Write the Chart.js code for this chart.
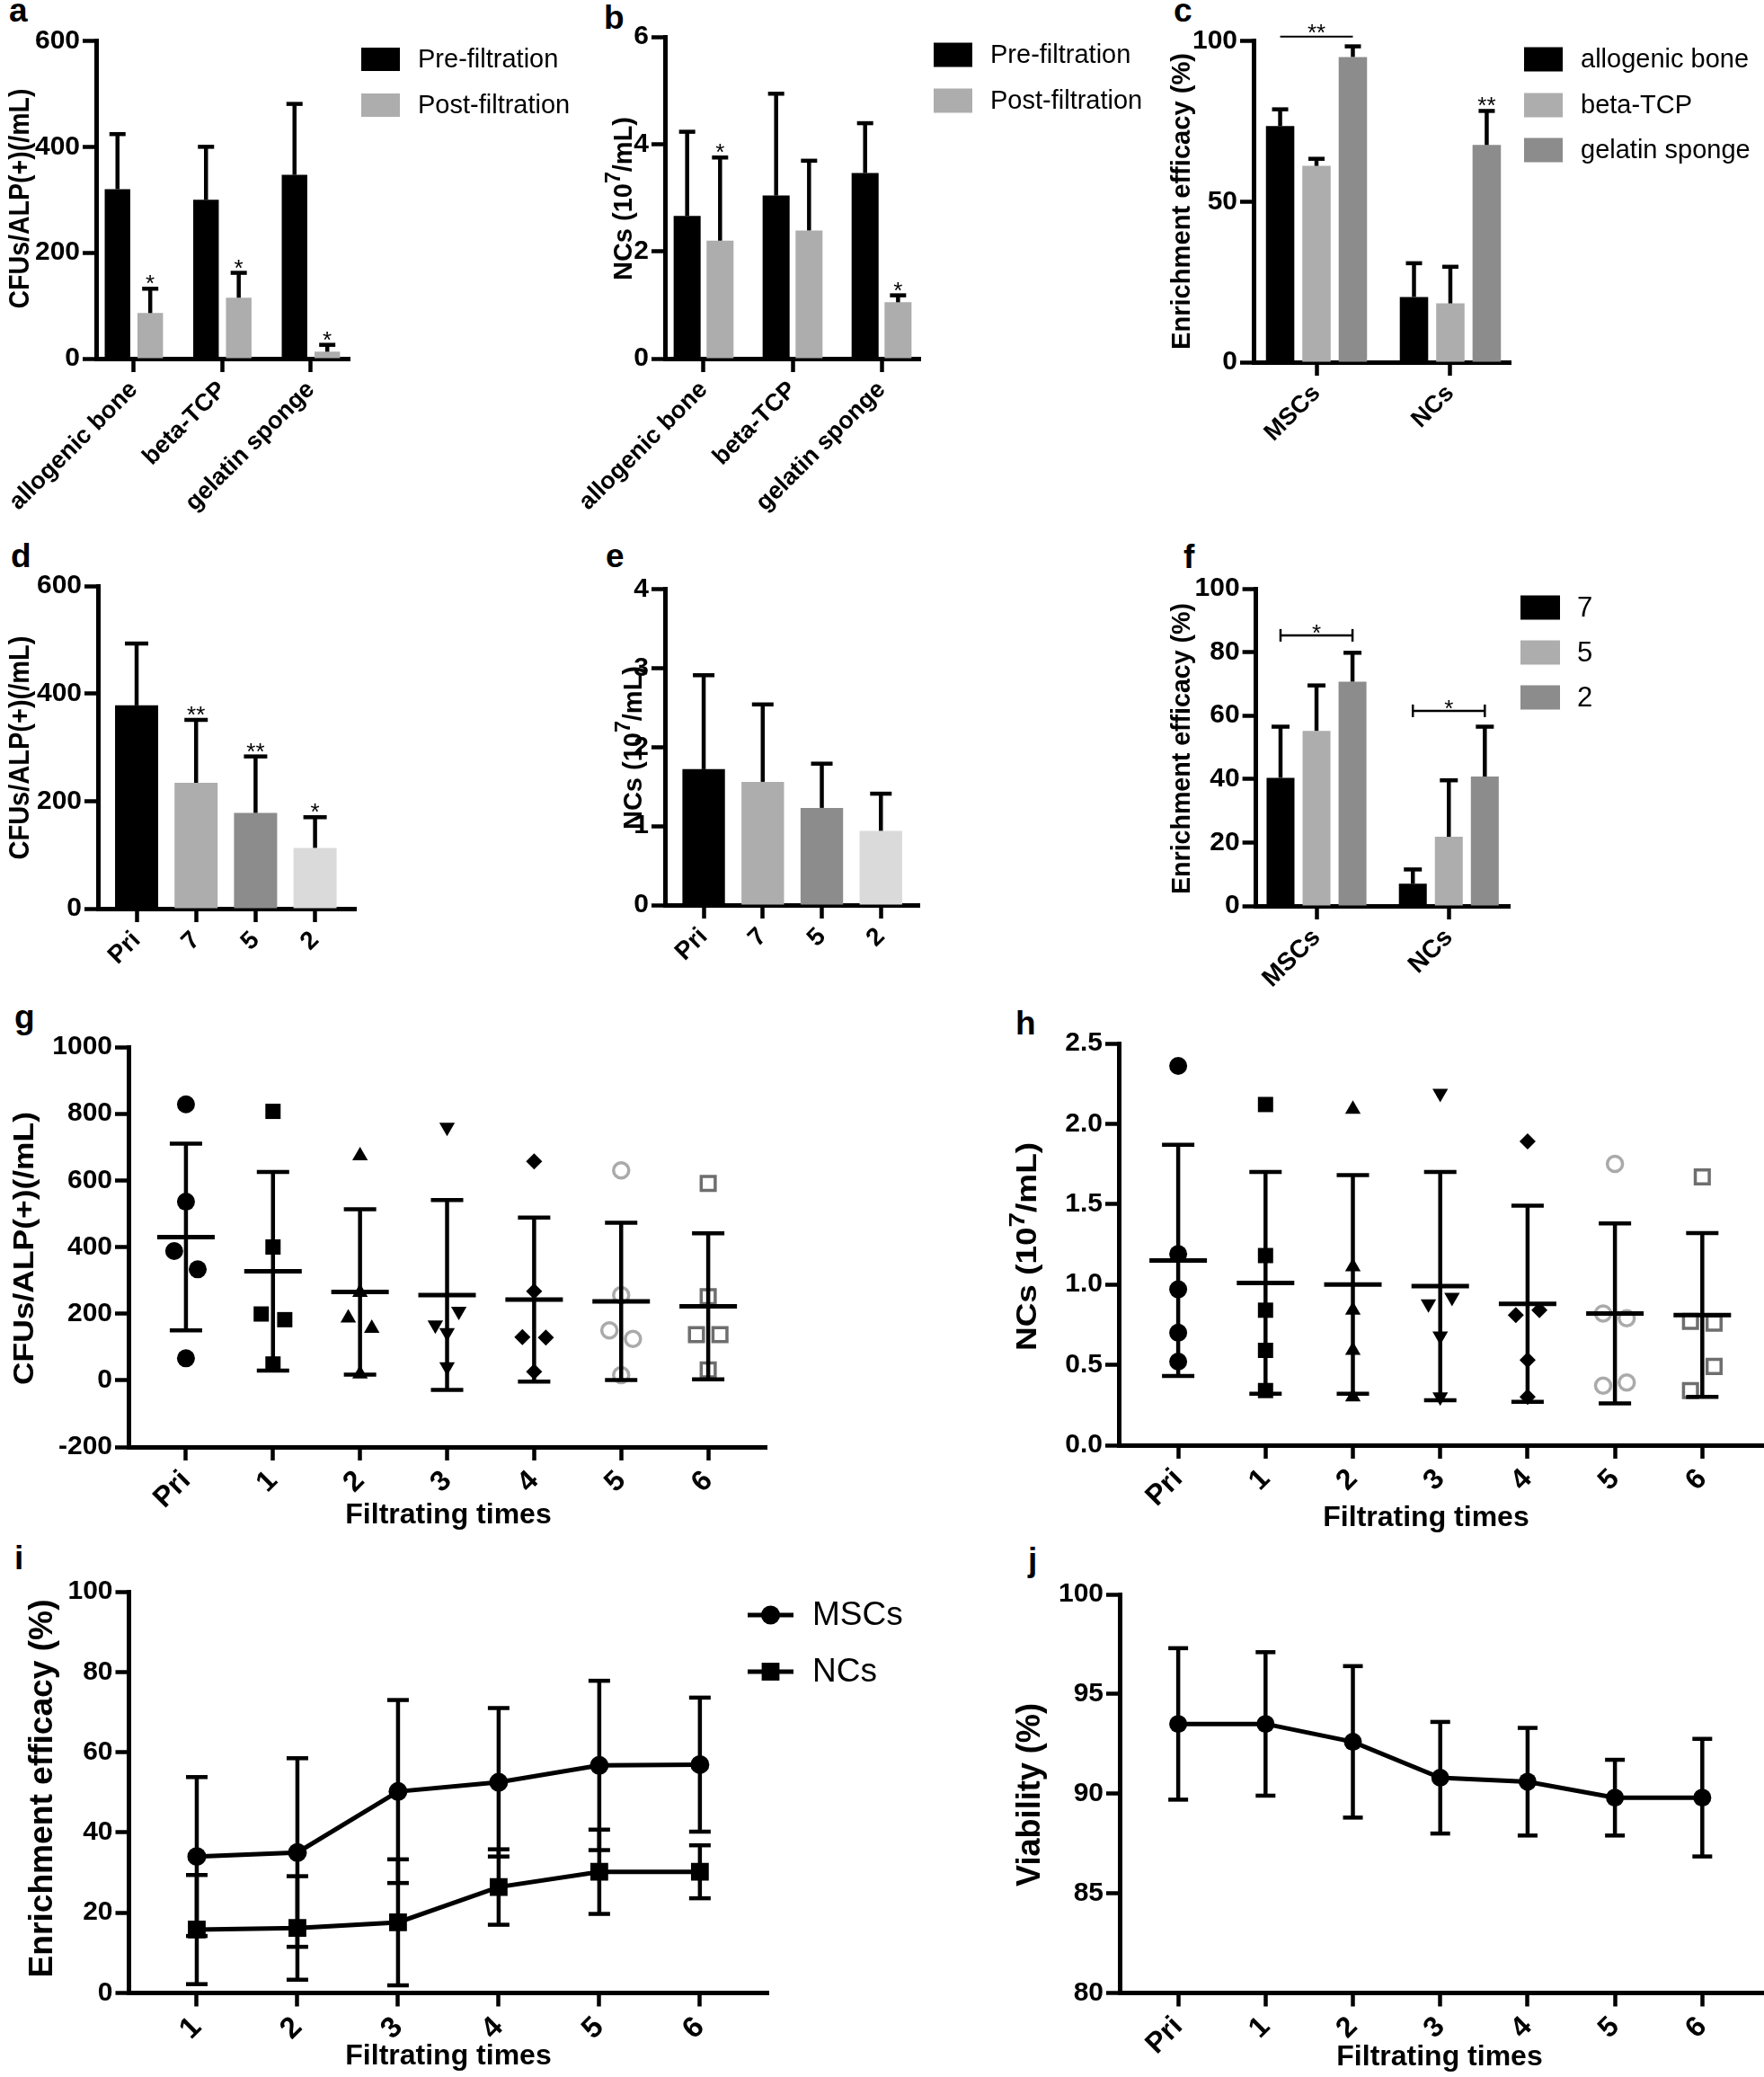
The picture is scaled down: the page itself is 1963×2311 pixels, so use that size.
<!DOCTYPE html>
<html>
<head>
<meta charset="utf-8">
<script src="https://cdn.jsdelivr.net/npm/chart.js@4.4.1/dist/chart.umd.min.js"></script>
<style>
  body { margin: 0; background: #fff; overflow: hidden; }
  #fig { position: relative; width: 1963px; height: 2311px; background: #fff; overflow: hidden; }
  #fig canvas { position: absolute; }
  .tag { position: absolute; font: bold 37px "Liberation Sans", Arial, sans-serif; line-height: 1; color: #000; }
</style>
</head>
<body>
<div id="fig">
  <div class="tag" style="left:10px;top:-7px">a</div>
  <div class="tag" style="left:672px;top:1px">b</div>
  <div class="tag" style="left:1306px;top:-7px">c</div>
  <div class="tag" style="left:12px;top:600px">d</div>
  <div class="tag" style="left:674px;top:600px">e</div>
  <div class="tag" style="left:1317px;top:601px">f</div>
  <div class="tag" style="left:16px;top:1113px">g</div>
  <div class="tag" style="left:1130px;top:1120px">h</div>
  <div class="tag" style="left:16px;top:1715px">i</div>
  <div class="tag" style="left:1144px;top:1717px">j</div>
</div>
<script>
const FONT = '"Liberation Sans", Arial, sans-serif';
Chart.defaults.font.family = FONT;
Chart.defaults.color = '#000';

// ---- a / b : pre vs post filtration per scaffold ----
const scaffolds = ["allogenic bone", "beta-TCP", "gelatin sponge"];
const cfuPre = [320, 300, 347];
const cfuPreSD = [104, 100, 134];
const cfuPost = [86, 115, 13];
const cfuPostSD = [46, 47, 13];
const cfuPostSig = ["*", "*", "*"];

const ncPre = [2.66, 3.04, 3.46];
const ncPreSD = [1.57, 1.90, 0.93];
const ncPost = [2.20, 2.39, 1.05];
const ncPostSD = [1.55, 1.30, 0.13];
const ncPostSig = ["*", "", "*"];

// ---- c : enrichment efficacy per scaffold ----
const cellTypes = ["MSCs", "NCs"];
const effAllogenic = [73.5, 20.3];
const effAllogenicSD = [5.2, 10.5];
const effBeta = [61.1, 18.3];
const effBetaSD = [2.2, 11.4];
const effGelatin = [95.0, 67.6];
const effGelatinSD = [3.3, 10.6];
const effGelatinSig = ["", "**"];

// ---- d / e / f : pore size ----
const poreGroups = ["Pri", "7", "5", "2"];
const cfuPore = [378, 234, 178, 113];
const cfuPoreSD = [115, 117, 105, 57];
const cfuPoreSig = ["", "**", "**", "*"];
const ncPore = [1.72, 1.56, 1.23, 0.94];
const ncPoreSD = [1.19, 0.98, 0.56, 0.47];
const eff7 = [40.4, 7.0];
const eff7SD = [16.1, 4.5];
const eff5 = [55.2, 21.8];
const eff5SD = [14.3, 17.8];
const eff2 = [70.7, 40.8];
const eff2SD = [9.1, 15.7];

// ---- g / h : repeated filtration, individual samples ----
const filtTimes = ["Pri", "1", "2", "3", "4", "5", "6"];
const cfuRuns = [
  [828, 536, 388, 333, 66],
  [807, 400, 199, 182, 49],
  [674, 264, 187, 156, 19],
  [759, 207, 166, 143, 41],
  [657, 267, 130, 128, 26],
  [630, 256, 150, 124, 16],
  [591, 251, 137, 137, 31]
];
const cfuSide = [
  [0, 0, -1, 1, 0], [0, 0, -1, 1, 0], [0, 0, -1, 1, 0], [0, 1, -1, 0, 0],
  [0, 0, -1, 1, 0], [0, 0, -1, 1, 0], [0, 0, -1, 1, 0]
];
const cfuMean = [430, 327, 265, 256, 242, 237, 222];
const cfuSD = [280, 298, 248, 285, 246, 236, 219];

const ncRuns = [
  [2.36, 1.19, 0.97, 0.70, 0.52],
  [2.12, 1.18, 0.84, 0.59, 0.34],
  [2.09, 1.11, 0.84, 0.59, 0.30],
  [2.19, 0.88, 0.92, 0.68, 0.30],
  [1.89, 0.81, 0.84, 0.53, 0.30],
  [1.75, 0.82, 0.79, 0.37, 0.39],
  [1.67, 0.77, 0.76, 0.49, 0.34]
];
const ncSide = [
  [0, 0, 0, 0, 0], [0, 0, 0, 0, 0], [0, 0, 0, 0, 0], [0, -1, 1, 0, 0],
  [0, -1, 1, 0, 0], [0, -1, 1, -1, 1], [0, -1, 1, 1, -1]
];
const ncMean = [1.15, 1.01, 1.00, 0.99, 0.88, 0.82, 0.81];
const ncSD = [0.72, 0.69, 0.68, 0.71, 0.61, 0.56, 0.51];

// ---- i : enrichment over filtering passes ----
const passes = [1, 2, 3, 4, 5, 6];
const mscEff = [34.0, 35.0, 50.2, 52.5, 56.7, 56.9];
const mscEffSD = [19.8, 23.5, 22.8, 18.5, 21.1, 16.7];
const ncEff = [15.8, 16.2, 17.6, 26.4, 30.2, 30.2];
const ncEffSD = [13.6, 12.9, 15.7, 9.4, 10.5, 6.6];

// ---- j : viability ----
const viability = [93.5, 93.5, 92.6, 90.8, 90.6, 89.8, 89.8];
const viabilitySD = [3.8, 3.6, 3.8, 2.8, 2.7, 1.9, 2.95];

// ---------------------------------------------------------------
const JIT = 0.135; // horizontal spread of overlapping dots (x units)
const BLACK = '#000', LIGHT = '#adadad', MID = '#8c8c8c', PALE = '#dadada';

function vText(ctx, parts, size, len, bx, cy) {
  const f = s => `bold ${s}px ${FONT}`;
  let w = 0;
  const items = parts.map(p => {
    const sup = p[1];
    ctx.font = f(sup ? size * 0.8 : size);
    const m = ctx.measureText(p[0]).width;
    w += m;
    return { t: p[0], sup, m };
  });
  ctx.save();
  ctx.translate(bx, cy);
  ctx.rotate(-Math.PI / 2);
  ctx.scale(len ? len / w : 1, 1);
  ctx.textAlign = 'left';
  ctx.textBaseline = 'alphabetic';
  let p = -w / 2;
  items.forEach(it => {
    ctx.font = f(it.sup ? size * 0.8 : size);
    ctx.fillText(it.t, p, it.sup ? -size * 0.42 : 0);
    p += it.m;
  });
  ctx.restore();
}

const deco = {
  id: 'deco',
  afterDatasetsDraw(chart, args, o) {
    const ctx = chart.ctx, xs = chart.scales.x, ys = chart.scales.y;
    const seg = (x1, y1, x2, y2) => { ctx.beginPath(); ctx.moveTo(x1, y1); ctx.lineTo(x2, y2); ctx.stroke(); };
    ctx.save();
    ctx.strokeStyle = '#000';
    ctx.fillStyle = '#000';

    // error bars
    ctx.lineWidth = o.errWidth || 4.5;
    chart.data.datasets.forEach((ds, k) => {
      if (!ds.sd) return;
      chart.getDatasetMeta(k).data.forEach((el, i) => {
        const v = ds.data[i].y, s = ds.sd[i];
        const hi = ys.getPixelForValue(v + s);
        const lo = o.twoSided ? ys.getPixelForValue(v - s) : el.y;
        seg(el.x, lo, el.x, hi);
        seg(el.x - o.cap, hi, el.x + o.cap, hi);
        if (o.twoSided) seg(el.x - o.cap, lo, el.x + o.cap, lo);
      });
    });

    // mean and SD of scatter columns
    if (o.summary) {
      const S = o.summary;
      S.mean.forEach((m, i) => {
        const x = xs.getPixelForValue(i), ym = ys.getPixelForValue(m);
        const hi = ys.getPixelForValue(m + S.sd[i]), lo = ys.getPixelForValue(m - S.sd[i]);
        ctx.lineWidth = 5;
        seg(x - S.half, ym, x + S.half, ym);
        ctx.lineWidth = 4.5;
        seg(x, lo, x, hi);
        seg(x - S.cap, hi, x + S.cap, hi);
        seg(x - S.cap, lo, x + S.cap, lo);
      });
    }

    // significance marks
    ctx.textAlign = 'center';
    ctx.textBaseline = 'alphabetic';
    ctx.font = `26px ${FONT}`;
    (o.stars || []).forEach(st => {
      const ds = chart.data.datasets[st.ds];
      const meta = chart.getDatasetMeta(st.ds);
      st.marks.forEach((t, i) => {
        if (!t) return;
        const y = ys.getPixelForValue(ds.data[i].y + ds.sd[i]);
        ctx.fillText(t, meta.data[i].x, y + 3);
      });
    });
    (o.brackets || []).forEach(b => {
      const x1 = chart.getDatasetMeta(b.from).data[b.i].x;
      const x2 = chart.getDatasetMeta(b.to).data[b.i].x;
      const y = ys.getPixelForValue(b.value);
      ctx.lineWidth = b.lw;
      seg(x1, y, x2, y);
      if (b.ends) { seg(x1, y - b.ends, x1, y + b.ends); seg(x2, y - b.ends, x2, y + b.ends); }
      ctx.fillText(b.text, (x1 + x2) / 2, y + b.dy);
    });

    // page coordinates from here on
    ctx.translate(-o.ox, -o.oy);

    if (o.legend) {
      const L = o.legend;
      chart.data.datasets.forEach((ds, k) => {
        const y = L.y[k];
        if (L.kind === 'line') {
          ctx.lineWidth = 5;
          seg(L.x, y, L.x + L.w, y);
          ctx.fillStyle = '#000';
          Chart.helpers.drawPoint(ctx, { pointStyle: ds.pointStyle, radius: ds.pointRadius, rotation: 0, borderWidth: 0 }, L.x + L.w / 2, y);
        } else {
          ctx.fillStyle = ds.backgroundColor;
          ctx.fillRect(L.x, y - L.h / 2, L.w, L.h);
        }
        ctx.fillStyle = '#000';
        ctx.font = `${L.size}px ${FONT}`;
        ctx.textAlign = 'left';
        ctx.textBaseline = 'middle';
        ctx.fillText(ds.label, L.tx, y + 1);
      });
    }
    if (o.yTitle) {
      const T = o.yTitle;
      vText(ctx, T.parts, T.size, T.len, T.x, T.y);
    }
    if (o.xTitle) {
      const T = o.xTitle;
      ctx.font = `bold ${T.size}px ${FONT}`;
      ctx.textAlign = 'center';
      ctx.textBaseline = 'alphabetic';
      ctx.fillStyle = '#000';
      ctx.fillText(T.text, T.x, T.y);
    }
    ctx.restore();
  }
};

const fig = document.getElementById('fig');

function panel(box, area, type, datasets, o) {
  const cv = document.createElement('canvas');
  cv.width = box[2];
  cv.height = box[3];
  cv.style.left = box[0] + 'px';
  cv.style.top = box[1] + 'px';
  fig.appendChild(cv);
  const grid = { drawOnChartArea: false, drawTicks: true, tickLength: 15, tickWidth: 4.5, tickColor: '#000', offset: false };
  const border = { display: true, width: 5, color: '#000' };
  const start = o.xStart || 0;
  return new Chart(cv, {
    type,
    data: { datasets },
    plugins: [deco],
    options: {
      responsive: false,
      animation: false,
      events: [],
      layout: { padding: { top: area[1] - box[1], right: box[0] + box[2] - area[2], left: 0, bottom: 0 } },
      scales: {
        x: {
          type: 'linear', min: o.xMin, max: o.xMax, offset: false,
          afterBuildTicks: s => { s.ticks = o.xLabels.map((_, i) => ({ value: i + start })); },
          afterFit: s => { s.height = box[1] + box[3] - area[3]; s.paddingLeft = 0; s.paddingRight = 0; },
          ticks: {
            autoSkip: false, minRotation: 45, maxRotation: 45, padding: 4, color: '#000',
            font: { family: FONT, weight: 'bold', size: o.xTickSize || 32 },
            callback: (v, i) => o.xLabels[i]
          },
          grid, border
        },
        y: {
          type: 'linear', min: o.yMin, max: o.yMax,
          afterFit: s => { s.width = area[0] - box[0]; s.paddingTop = 0; s.paddingBottom = 0; },
          ticks: {
            stepSize: o.yStep, padding: 3, color: '#000',
            font: { family: FONT, weight: 'bold', size: o.yTickSize || 30 },
            callback: o.yFmt || (v => String(v))
          },
          grid, border
        }
      },
      plugins: {
        legend: { display: false },
        tooltip: { enabled: false },
        deco: Object.assign({ ox: box[0], oy: box[1] }, o.deco)
      }
    }
  });
}

const pts = (vals, xs) => vals.map((v, i) => ({ x: xs ? xs[i] : i, y: v }));
const bar = (label, vals, sd, color, cp, bp) => ({
  label, data: pts(vals), sd, backgroundColor: color, borderWidth: 0,
  categoryPercentage: cp, barPercentage: bp
});

// a
panel([0, 0, 655, 620], [107, 45.5, 389, 399], 'bar', [
  bar('Pre-filtration', cfuPre, cfuPreSD, BLACK, 0.74, 0.78),
  bar('Post-filtration', cfuPost, cfuPostSD, LIGHT, 0.74, 0.78)
], {
  xMin: -0.426, xMax: 2.437, xLabels: scaffolds, xTickSize: 27,
  yMin: 0, yMax: 600, yStep: 200,
  deco: {
    cap: 9, stars: [{ ds: 1, marks: cfuPostSig }],
    legend: { x: 402, y: [66, 117], w: 43, h: 26, tx: 465, size: 29 },
    yTitle: { parts: [['CFUs/ALP(+)(/mL)']], size: 31, len: 245, x: 32, y: 221 }
  }
});

// b
panel([600, 0, 695, 620], [740, 41, 1024, 399], 'bar', [
  bar('Pre-filtration', ncPre, ncPreSD, BLACK, 0.74, 0.82),
  bar('Post-filtration', ncPost, ncPostSD, LIGHT, 0.74, 0.82)
], {
  xMin: -0.434, xMax: 2.434, xLabels: scaffolds, xTickSize: 27,
  yMin: 0, yMax: 6, yStep: 2,
  deco: {
    cap: 9, stars: [{ ds: 1, marks: ncPostSig }],
    legend: { x: 1039, y: [61, 112], w: 43, h: 27, tx: 1102, size: 29 },
    yTitle: { parts: [['NCs (10'], ['7', 1], ['/mL)']], size: 30, len: 182, x: 703, y: 221 }
  }
});

// c
panel([1295, 0, 668, 620], [1395, 45.5, 1681, 403], 'bar', [
  bar('allogenic bone', effAllogenic, effAllogenicSD, BLACK, 0.815, 0.78),
  bar('beta-TCP', effBeta, effBetaSD, LIGHT, 0.815, 0.78),
  bar('gelatin sponge', effGelatin, effGelatinSD, MID, 0.815, 0.78)
], {
  xMin: -0.47, xMax: 1.45, xLabels: cellTypes, xTickSize: 27,
  yMin: 0, yMax: 100, yStep: 50,
  deco: {
    cap: 9, stars: [{ ds: 2, marks: effGelatinSig }],
    brackets: [{ from: 0, to: 2, i: 0, value: 101.3, text: '**', lw: 2, dy: 4 }],
    legend: { x: 1696, y: [66, 117, 167], w: 43, h: 27, tx: 1759, size: 29 },
    yTitle: { parts: [['Enrichment efficacy (%)']], size: 30, len: 330, x: 1324, y: 224 }
  }
});

// d
panel([0, 620, 655, 500], [109, 652, 396, 1011], 'bar', [
  bar('CFUs', cfuPore, cfuPoreSD, [BLACK, LIGHT, MID, PALE], 0.725, 1)
], {
  xMin: -0.65, xMax: 3.686, xLabels: poreGroups, xTickSize: 28,
  yMin: 0, yMax: 600, yStep: 200,
  deco: {
    cap: 13, stars: [{ ds: 0, marks: cfuPoreSig }],
    yTitle: { parts: [['CFUs/ALP(+)(/mL)']], size: 31, len: 249, x: 32, y: 832 }
  }
});

// e
panel([655, 620, 640, 500], [740, 655.5, 1023, 1007], 'bar', [
  bar('NCs', ncPore, ncPoreSD, [BLACK, LIGHT, MID, PALE], 0.72, 1)
], {
  xMin: -0.655, xMax: 3.65, xLabels: poreGroups, xTickSize: 28,
  yMin: 0, yMax: 4, yStep: 1,
  deco: {
    cap: 12,
    yTitle: { parts: [['NCs (10'], ['7', 1], ['/mL)']], size: 30, len: 182, x: 714, y: 832 }
  }
});

// f
panel([1295, 620, 668, 500], [1397.6, 655, 1680, 1008], 'bar', [
  bar('7', eff7, eff7SD, BLACK, 0.816, 0.775),
  bar('5', eff5, eff5SD, LIGHT, 0.816, 0.775),
  bar('2', eff2, eff2SD, MID, 0.816, 0.775)
], {
  xMin: -0.458, xMax: 1.46, xLabels: cellTypes, xTickSize: 28,
  yMin: 0, yMax: 100, yStep: 20,
  deco: {
    cap: 10,
    brackets: [
      { from: 0, to: 2, i: 0, value: 85.3, text: '*', lw: 2.5, ends: 7, dy: 6 },
      { from: 0, to: 2, i: 1, value: 61.5, text: '*', lw: 2.5, ends: 7, dy: 6 }
    ],
    legend: { x: 1692, y: [676, 726, 776], w: 44, h: 27, tx: 1755, size: 31 },
    yTitle: { parts: [['Enrichment efficacy (%)']], size: 30, len: 324, x: 1324, y: 833 }
  }
});

// marker look for the seven columns of g and h
const markers = [
  { pointStyle: 'circle', pointRadius: 10, pointBackgroundColor: BLACK, pointBorderColor: BLACK, pointBorderWidth: 0 },
  { pointStyle: 'rect', pointRadius: 12, pointBackgroundColor: BLACK, pointBorderColor: BLACK, pointBorderWidth: 0 },
  { pointStyle: 'triangle', pointRadius: 10, pointBackgroundColor: BLACK, pointBorderColor: BLACK, pointBorderWidth: 0 },
  { pointStyle: 'triangle', pointRotation: 180, pointRadius: 10, pointBackgroundColor: BLACK, pointBorderColor: BLACK, pointBorderWidth: 0 },
  { pointStyle: 'rectRot', pointRadius: 9, pointBackgroundColor: BLACK, pointBorderColor: BLACK, pointBorderWidth: 0 },
  { pointStyle: 'circle', pointRadius: 8.5, pointBackgroundColor: 'rgba(0,0,0,0)', pointBorderColor: '#aaaaaa', pointBorderWidth: 3.5 },
  { pointStyle: 'rect', pointRadius: 11, pointBackgroundColor: 'rgba(0,0,0,0)', pointBorderColor: '#6e6e6e', pointBorderWidth: 3.5 }
];
const columns = (runs, side) => runs.map((vals, k) => Object.assign({
  label: filtTimes[k],
  data: vals.map((v, i) => ({ x: k + side[k][i] * JIT, y: v }))
}, markers[k]));

// g
panel([0, 1120, 990, 600], [143, 1165, 853, 1610], 'scatter', columns(cfuRuns, cfuSide), {
  xMin: -0.66, xMax: 6.67, xLabels: filtTimes,
  yMin: -200, yMax: 1000, yStep: 200,
  deco: {
    summary: { mean: cfuMean, sd: cfuSD, half: 32, cap: 18 },
    yTitle: { parts: [['CFUs/ALP(+)(/mL)']], size: 31, len: 304, x: 37, y: 1389 },
    xTitle: { text: 'Filtrating times', size: 32, x: 499, y: 1695 }
  }
});

// h
panel([990, 1120, 1010, 600], [1245, 1161, 1975, 1608], 'scatter', columns(ncRuns, ncSide), {
  xMin: -0.68, xMax: 6.83, xLabels: filtTimes,
  yMin: 0, yMax: 2.5, yStep: 0.5, yFmt: v => v.toFixed(1),
  deco: {
    summary: { mean: ncMean, sd: ncSD, half: 32, cap: 18 },
    yTitle: { parts: [['NCs (10'], ['7', 1], ['/mL)']], size: 31, len: 232, x: 1153, y: 1387 },
    xTitle: { text: 'Filtrating times', size: 32, x: 1587, y: 1698 }
  }
});

// i
panel([0, 1720, 1070, 591], [143.5, 1771, 855, 2217.5], 'line', [
  { label: 'MSCs', data: pts(mscEff, passes), sd: mscEffSD, borderColor: BLACK, borderWidth: 5,
    pointStyle: 'circle', pointRadius: 10.5, pointBackgroundColor: BLACK, pointBorderWidth: 0 },
  { label: 'NCs', data: pts(ncEff, passes), sd: ncEffSD, borderColor: BLACK, borderWidth: 5,
    pointStyle: 'rect', pointRadius: 14, pointBackgroundColor: BLACK, pointBorderWidth: 0 }
], {
  xMin: 0.326, xMax: 6.68, xStart: 1, xLabels: passes.map(String), xTickSize: 33,
  yMin: 0, yMax: 100, yStep: 20,
  deco: {
    cap: 12, twoSided: true,
    legend: { kind: 'line', x: 832, y: [1797, 1860], w: 51, tx: 904, size: 37 },
    yTitle: { parts: [['Enrichment efficacy (%)']], size: 36, len: 421, x: 58, y: 1990 },
    xTitle: { text: 'Filtrating times', size: 32, x: 499, y: 2297 }
  }
});

// j
panel([990, 1720, 1010, 591], [1246, 1774, 1975, 2217.5], 'line', [
  { label: 'Viability', data: pts(viability), sd: viabilitySD, borderColor: BLACK, borderWidth: 5,
    pointStyle: 'circle', pointRadius: 10, pointBackgroundColor: BLACK, pointBorderWidth: 0 }
], {
  xMin: -0.67, xMax: 6.83, xLabels: filtTimes,
  yMin: 80, yMax: 100, yStep: 5,
  deco: {
    cap: 11, twoSided: true,
    yTitle: { parts: [['Viability (%)']], size: 36, len: 204, x: 1157, y: 1997 },
    xTitle: { text: 'Filtrating times', size: 32, x: 1602, y: 2298 }
  }
});
</script>
</body>
</html>
